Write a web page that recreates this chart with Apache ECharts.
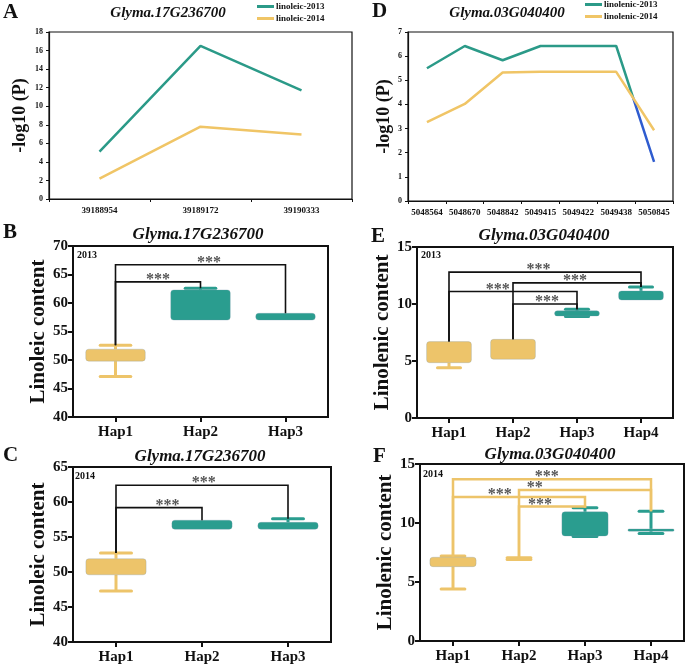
<!DOCTYPE html>
<html><head><meta charset="utf-8">
<script src="https://cdn.jsdelivr.net/npm/echarts@6/dist/echarts.min.js"></script>
<style>html,body{margin:0;padding:0;background:#fff}#c{width:685px;height:665px}</style>
</head><body><div id="c"></div>
<script>
// ---------- data ----------
const aCategories = ['39188954', '39189172', '39190333'];
const aLinoleic2013 = [5.1, 16.5, 11.7];
const aLinoleic2014 = [2.2, 7.8, 6.95];
const aTicks = [0, 18, 2];

const dCategories = ['5048564', '5048670', '5048842', '5049415', '5049422', '5049438', '5050845'];
const dLinolenic2013 = [5.5, 6.42, 5.83, 6.42, 6.42, 6.42, 1.62];
const dLinolenic2014 = [3.27, 4.02, 5.32, 5.35, 5.35, 5.35, 2.93];
const dTicks = [0, 7, 1];
const dColorSwitch = 4.3; // value below which the 2013 line turns blue

const haps3 = ['Hap1', 'Hap2', 'Hap3'];
const haps4 = ['Hap1', 'Hap2', 'Hap3', 'Hap4'];

// box stats: [min, q1, q3, max]
const bBoxes = [[47.1, 49.8, 51.9, 52.6], [57.0, 57.0, 62.3, 62.6], [57.0, 57.0, 58.2, 58.2]];
const cBoxes = [[47.3, 49.6, 51.9, 52.7], [56.1, 56.1, 57.4, 57.4], [56.1, 56.1, 57.1, 57.6]];
const eBoxes = [[4.4, 4.85, 6.7, 6.7], [5.15, 5.15, 6.9, 6.9], [8.9, 8.95, 9.4, 9.55], [10.35, 10.35, 11.15, 11.5]];
const fBoxes = [[4.4, 6.3, 7.1, 7.2], [6.9, 7.0, 7.0, 7.05], [8.85, 8.9, 10.95, 11.3], [9.1, 9.3, 9.5, 11.0]];

// brackets: [fromHap, toHap, level, fromEnd, toEnd, labelPos]
const bBrackets = [[0, 1, 63.7, 52.6, 62.6, 0.5], [0, 2, 66.7, 52.6, 58.2, 1.1]];
const bLabels = ['***', '***'];
const cBrackets = [[0, 1, 59.2, 52.7, 57.4, 0.6], [0, 2, 62.4, 52.7, 57.6, 1.02]];
const cLabels = ['***', '***'];
const eBrackets = [[0, 3, 12.8, 6.7, 11.5, 1.4], [1, 3, 11.85, 6.9, 11.5, 1.97], [0, 2, 11.1, 6.7, 9.55, 0.76], [1, 2, 10.0, 6.9, 9.55, 1.53]];
const eLabels = ['***', '***', '***', '***'];
const fBrackets = [[0, 3, 13.7, 7.1, 11.0, 1.42], [1, 3, 12.8, 7.0, 11.0, 1.24], [0, 2, 12.2, 7.1, 11.3, 0.71], [1, 2, 11.4, 7.0, 11.3, 1.32]];
const fLabels = ['***', '**', '***', '***'];

// ---------- style ----------
const SERIF = '"Liberation Serif","Times New Roman",serif';
const TEAL = '#2a9d8f', YEL = '#edc46a', BLUE = '#2f5ccf';
const LTEAL = '#2b9a88', LYEL = '#f0c566';

const chart = echarts.init(document.getElementById('c'), null, {renderer: 'canvas'});

const grids = [
  {left: 49, top: 32, width: 303, height: 167, borderWidth: 1.2},   // A
  {left: 408, top: 32, width: 265, height: 169, borderWidth: 1.2},  // D
  {left: 73, top: 246, width: 255, height: 171, borderWidth: 2},    // B
  {left: 417, top: 247, width: 256, height: 171, borderWidth: 2},   // E
  {left: 73, top: 467, width: 258, height: 175, borderWidth: 2},    // C
  {left: 420, top: 464, width: 264, height: 177, borderWidth: 2}    // F
].map(g => ({left: g.left, top: g.top, width: g.width, height: g.height, show: true,
  borderColor: '#111', borderWidth: g.borderWidth, backgroundColor: 'transparent', containLabel: false}));

function lineX(gi, cats) {
  return {gridIndex: gi, type: 'category', data: cats, boundaryGap: true,
    axisLine: {lineStyle: {color: '#111', width: 1.2}},
    axisTick: {show: true, length: 3, lineStyle: {color: '#111'}},
    axisLabel: {interval: 0, color: '#111', fontFamily: SERIF, fontWeight: 'bold', fontSize: 9, margin: 7}};
}
function lineY(gi, t, gap) {
  return {gridIndex: gi, type: 'value', min: t[0], max: t[1], interval: t[2],
    axisLine: {show: true, lineStyle: {color: '#111', width: 1.2}},
    axisTick: {show: true, length: 3, lineStyle: {color: '#111'}},
    splitLine: {show: false},
    axisLabel: {color: '#111', fontFamily: SERIF, fontWeight: 'bold', fontSize: 8, margin: 6},
    name: '-log10 (P)', nameLocation: 'middle', nameGap: gap,
    nameTextStyle: {fontFamily: SERIF, fontWeight: 'bold', fontSize: 18, color: '#111'}};
}
function boxX(gi, cats) {
  return {gridIndex: gi, type: 'category', data: cats, boundaryGap: true,
    axisLine: {lineStyle: {color: '#111', width: 2}},
    axisTick: {show: true, alignWithLabel: true, length: 5, lineStyle: {color: '#111', width: 2}},
    axisLabel: {interval: 0, color: '#111', fontFamily: SERIF, fontWeight: 'bold', fontSize: 15, margin: 8}};
}
function boxY(gi, min, max, step, name, gap) {
  return {gridIndex: gi, type: 'value', min: min, max: max, interval: step,
    axisLine: {show: true, lineStyle: {color: '#111', width: 2}},
    axisTick: {show: true, length: 5, lineStyle: {color: '#111', width: 2}},
    splitLine: {show: false},
    axisLabel: {color: '#111', fontFamily: SERIF, fontWeight: 'bold', fontSize: 15, margin: 5},
    name: name, nameLocation: 'middle', nameGap: gap,
    nameTextStyle: {fontFamily: SERIF, fontWeight: 'bold', fontSize: 21, color: '#111'}};
}

function lineSeries(name, gi, data, color, strokeColor) {
  return {name: name, type: 'line', xAxisIndex: gi, yAxisIndex: gi, data: data,
    showSymbol: false, symbol: 'none', lineStyle: {width: 2.5, color: strokeColor || color}, itemStyle: {color: color}};
}

// vertical gradient over the 2013 D line's extent: teal above the switch value, blue below
const dMax = Math.max.apply(null, dLinolenic2013), dMin = Math.min.apply(null, dLinolenic2013);
const dFrac = (dMax - dColorSwitch) / (dMax - dMin);
const dGradient = new echarts.graphic.LinearGradient(0, 0, 0, 1, [
  {offset: 0, color: LTEAL}, {offset: dFrac, color: LTEAL},
  {offset: dFrac, color: BLUE}, {offset: 1, color: BLUE}]);

function boxSeries(gi, boxes, nYellow) {
  return {type: 'custom', xAxisIndex: gi, yAxisIndex: gi, z: 3,
    encode: {x: 0, y: [1, 2, 3, 4]},
    data: boxes.map((d, i) => [i].concat(d)),
    renderItem: function (params, api) {
      const i = api.value(0);
      const mn = api.value(1), q1 = api.value(2), q3 = api.value(3), mx = api.value(4);
      const band = api.size([1, 0])[0];
      const color = i < nYellow ? YEL : TEAL;
      const bw = band * 0.7, cw = band * 0.36, lw = 3;
      const pMin = api.coord([i, mn]), pQ1 = api.coord([i, q1]), pQ3 = api.coord([i, q3]), pMax = api.coord([i, mx]);
      const x = pMin[0];
      const ch = [];
      if (mx > q3) {
        ch.push({type: 'line', shape: {x1: x, y1: pQ3[1], x2: x, y2: pMax[1]}, style: {stroke: color, lineWidth: lw}});
        ch.push({type: 'line', shape: {x1: x - cw / 2, y1: pMax[1], x2: x + cw / 2, y2: pMax[1]}, style: {stroke: color, lineWidth: lw, lineCap: 'round'}});
      }
      if (mn < q1) {
        ch.push({type: 'line', shape: {x1: x, y1: pQ1[1], x2: x, y2: pMin[1]}, style: {stroke: color, lineWidth: lw}});
        ch.push({type: 'line', shape: {x1: x - cw / 2, y1: pMin[1], x2: x + cw / 2, y2: pMin[1]}, style: {stroke: color, lineWidth: lw, lineCap: 'round'}});
      }
      const h = Math.max(pQ1[1] - pQ3[1], 0);
      if (h > 0.5) {
        ch.push({type: 'rect', shape: {x: x - bw / 2, y: pQ3[1], width: bw, height: h, r: Math.min(3, h / 2)},
          style: {fill: color, stroke: 'rgba(120,150,170,0.35)', lineWidth: 0.8}});
      }
      return {type: 'group', children: ch};
    }};
}

function bracketSeries(gi, rows, labels, color, lw) {
  return {type: 'custom', xAxisIndex: gi, yAxisIndex: gi, z: 5,
    encode: {x: [0, 1], y: [2, 3, 4]},
    data: rows,
    renderItem: function (params, api) {
      const a = api.value(0), b = api.value(1), lvl = api.value(2), ea = api.value(3), eb = api.value(4), lp = api.value(5);
      const p1 = api.coord([a, ea]), p2 = api.coord([a, lvl]), p3 = api.coord([b, lvl]), p4 = api.coord([b, eb]);
      const band = api.size([1, 0])[0];
      const x0 = api.coord([0, lvl])[0];
      const lx = x0 + lp * band;
      return {type: 'group', children: [
        {type: 'polyline', shape: {points: [p1, p2, p3, p4]}, style: {stroke: color, lineWidth: lw, fill: null}},
        {type: 'text', x: lx, y: p2[1] - 2, style: {text: labels[params.dataIndex], fill: '#555',
          font: 'bold 16px ' + SERIF, align: 'center', verticalAlign: 'middle'}}
      ]};
    }};
}

function txt(x, y, text, size, opts) {
  opts = opts || {};
  return {type: 'text', x: x, y: y, z: 10, style: {text: text, fill: '#111',
    font: (opts.italic ? 'italic ' : '') + 'bold ' + size + 'px ' + SERIF,
    align: opts.align || 'center', verticalAlign: 'middle'}};
}

const legendBase = {orient: 'vertical', icon: 'rect', itemWidth: 17, itemHeight: 3, itemGap: 3, padding: 0,
  textStyle: {fontFamily: SERIF, fontWeight: 'bold', fontSize: 9, color: '#111', padding: [0, 0, 0, -3]}};

const option = {
  backgroundColor: '#fff',
  animation: false,
  grid: grids,
  xAxis: [lineX(0, aCategories), lineX(1, dCategories), boxX(2, haps3), boxX(3, haps4), boxX(4, haps3), boxX(5, haps4)],
  yAxis: [lineY(0, aTicks, 20), lineY(1, dTicks, 15),
    boxY(2, 40, 70, 5, 'Linoleic content', 24), boxY(3, 0, 15, 5, 'Linolenic content', 20),
    boxY(4, 40, 65, 5, 'Linoleic content', 23), boxY(5, 0, 15, 5, 'Linolenic content', 21)],
  legend: [
    Object.assign({}, legendBase, {data: ['linoleic-2013', 'linoleic-2014'], left: 257, top: 2}),
    Object.assign({}, legendBase, {data: ['linolenic-2013', 'linolenic-2014'], left: 585, top: 0})
  ],
  series: [
    lineSeries('linoleic-2013', 0, aLinoleic2013, LTEAL),
    lineSeries('linoleic-2014', 0, aLinoleic2014, LYEL),
    lineSeries('linolenic-2013', 1, dLinolenic2013, LTEAL, dGradient),
    lineSeries('linolenic-2014', 1, dLinolenic2014, LYEL),
    boxSeries(2, bBoxes, 1), bracketSeries(2, bBrackets, bLabels, '#111', 1.6),
    boxSeries(3, eBoxes, 2), bracketSeries(3, eBrackets, eLabels, '#111', 1.6),
    boxSeries(4, cBoxes, 1), bracketSeries(4, cBrackets, cLabels, '#111', 1.6),
    boxSeries(5, fBoxes, 2), bracketSeries(5, fBrackets, fLabels, YEL, 2.5)
  ],
  graphic: [
    txt(3, 13, 'A', 21, {align: 'left'}), txt(372, 12, 'D', 21, {align: 'left'}),
    txt(3, 233, 'B', 21, {align: 'left'}), txt(371, 237, 'E', 21, {align: 'left'}),
    txt(3, 456, 'C', 21, {align: 'left'}), txt(373, 457, 'F', 21, {align: 'left'}),
    txt(168, 13, 'Glyma.17G236700', 15, {italic: true}),
    txt(507, 13, 'Glyma.03G040400', 15, {italic: true}),
    txt(198, 235, 'Glyma.17G236700', 17, {italic: true}),
    txt(544, 236, 'Glyma.03G040400', 17, {italic: true}),
    txt(200, 457, 'Glyma.17G236700', 17, {italic: true}),
    txt(550, 455, 'Glyma.03G040400', 17, {italic: true}),
    txt(77, 255, '2013', 10, {align: 'left'}), txt(421, 255, '2013', 10, {align: 'left'}),
    txt(75, 476, '2014', 10, {align: 'left'}), txt(423, 474, '2014', 10, {align: 'left'})
  ]
};
chart.setOption(option);
</script></body></html>
